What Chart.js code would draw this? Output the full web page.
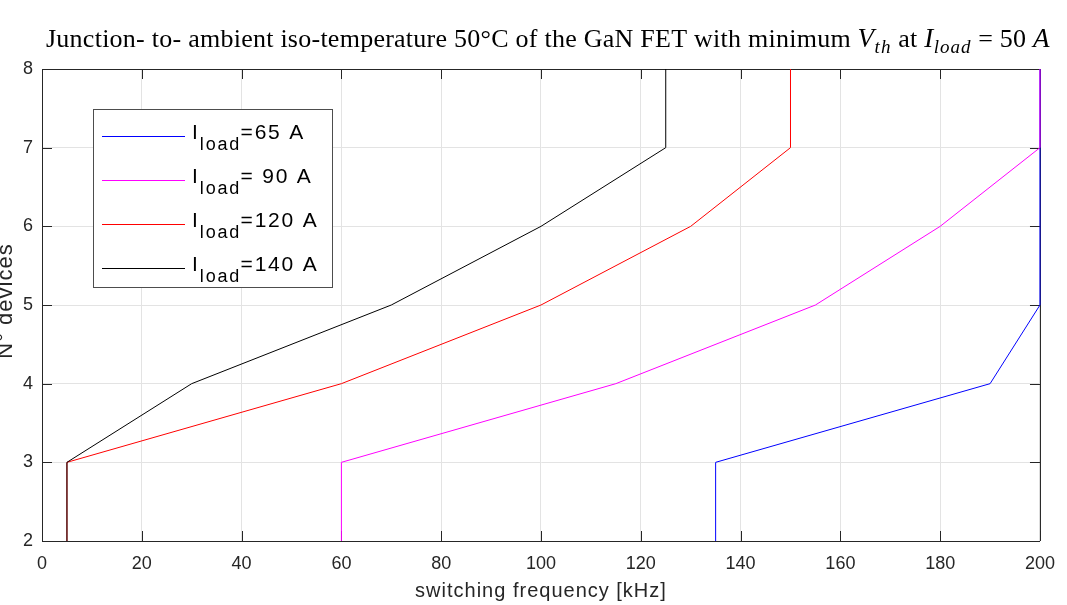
<!DOCTYPE html>
<html><head><meta charset="utf-8">
<script src="https://cdn.jsdelivr.net/npm/chart.js@4/dist/chart.umd.min.js"></script>
<style>html,body{margin:0;padding:0;background:#fff}#wrap{width:1067px;height:605px;position:relative}</style>
</head><body><div id="wrap"><canvas id="c" width="1067" height="605"></canvas></div>
<script>
// ---- data ----
const nDevices = [2, 3, 4, 5, 6, 7, 8];
const freq65  = [135, 135, 190, 200, 200, 200, 200];
const freq90  = [60, 60, 115, 155, 180, 200, 200];
const freq120 = [5, 5, 60, 100, 130, 150, 150];
const freq140 = [5, 5, 30, 70, 100, 125, 125];
const legendSuffix = ['=65 A', '= 90 A', '=120 A', '=140 A'];
const seriesColors = ['#0000ff', '#ff00ff', '#ff0000', '#000000'];
const xTicks = [0, 20, 40, 60, 80, 100, 120, 140, 160, 180, 200];
const yTicks = [2, 3, 4, 5, 6, 7, 8];
const xTitle = 'switching frequency [kHz]';
const yTitle = 'N° devices';

const AX = '#262626';
const SANS = '"Liberation Sans", Arial, sans-serif';
const SERIF = '"Liberation Serif", "Times New Roman", serif';
const allFreq = [freq65, freq90, freq120, freq140];
const datasets = allFreq.map((f, i) => ({
  label: 'Iload' + legendSuffix[i],
  data: f.map((x, k) => ({ x: x, y: nDevices[k] })),
  borderColor: seriesColors[i],
  backgroundColor: seriesColors[i],
  borderWidth: 1,
  pointRadius: 0,
  showLine: true,
  tension: 0,
  clip: 2,
  order: allFreq.length - i
}));

function spacedText(ctx, t, x, y, sp) {
  ctx.letterSpacing = sp + 'px';
  ctx.fillText(t, x, y);
  const w = ctx.measureText(t).width;
  ctx.letterSpacing = '0px';
  return w;
}

const decor = {
  id: 'decor',
  beforeDatasetsDraw(chart) {
    const ctx = chart.ctx, a = chart.chartArea;
    const xs = chart.scales.x, ys = chart.scales.y;
    ctx.save();
    ctx.strokeStyle = AX; ctx.lineWidth = 1;
    ctx.beginPath();
    ctx.moveTo(a.left, a.top + 0.5); ctx.lineTo(a.right + 0.5, a.top + 0.5);
    ctx.lineTo(a.right + 0.5, a.bottom);
    ctx.stroke();
    ctx.beginPath();
    xTicks.forEach(v => {
      const px = Math.round(xs.getPixelForValue(v)) + 0.5;
      ctx.moveTo(px, a.bottom); ctx.lineTo(px, a.bottom - 10);
      ctx.moveTo(px, a.top); ctx.lineTo(px, a.top + 10);
    });
    yTicks.forEach(v => {
      const py = Math.round(ys.getPixelForValue(v)) + 0.5;
      ctx.moveTo(a.left, py); ctx.lineTo(a.left + 10, py);
      ctx.moveTo(a.right, py); ctx.lineTo(a.right - 10, py);
    });
    ctx.stroke();
    ctx.restore();
  },
  afterDraw(chart) {
    const ctx = chart.ctx, a = chart.chartArea;
    ctx.save();
    // legend
    const lx = 93, ly = 109, lw = 239, lh = 178;
    ctx.fillStyle = '#fff';
    ctx.fillRect(lx, ly, lw, lh);
    ctx.strokeStyle = '#4d4d4d'; ctx.lineWidth = 1;
    ctx.strokeRect(lx + 0.5, ly + 0.5, lw, lh);
    chart.data.datasets.forEach((ds, i) => {
      const rowY = 136 + i * 44;
      ctx.strokeStyle = ds.borderColor; ctx.lineWidth = 1;
      ctx.beginPath(); ctx.moveTo(102, rowY + 0.5); ctx.lineTo(185, rowY + 0.5); ctx.stroke();
      ctx.fillStyle = '#000';
      ctx.textBaseline = 'alphabetic'; ctx.textAlign = 'left';
      let x = 192;
      ctx.font = '21px ' + SANS;
      x += spacedText(ctx, 'I', x, rowY + 2.5, 0) + 2;
      ctx.font = '18px ' + SANS;
      x += spacedText(ctx, 'load', x, rowY + 14, 1.8) - 0.5;
      ctx.font = '21px ' + SANS;
      spacedText(ctx, legendSuffix[i], x, rowY + 2.5, 1.8);
    });

    // title (partially cut off, as in reference)
    const segs = [
      ['Junction- to- ambient iso-temperature 50°C of the GaN FET with minimum ', 'n'],
      ['V', 'i'], ['th', 's'], [' at ', 'n'], ['I', 'i'], ['load', 's'], [' = 50 ', 'n'], ['A', 'i']
    ];
    let tx = 46; const tb = 47;
    ctx.fillStyle = '#000';
    segs.forEach(([t, s]) => {
      let sp = 0.25;
      if (s === 'n') ctx.font = '26px ' + SERIF;
      else if (s === 'i') { ctx.font = 'italic 27px ' + SERIF; sp = 0.5; }
      else { ctx.font = 'italic 19px ' + SERIF; sp = 1; }
      tx += spacedText(ctx, t, tx, s === 's' ? tb + 6 : tb, sp);
    });

    // axis titles
    ctx.fillStyle = AX;
    ctx.font = '20px ' + SANS;
    ctx.textAlign = 'center';
    ctx.letterSpacing = '1px';
    ctx.fillText(xTitle, (a.left + a.right) / 2, 597);
    ctx.save();
    ctx.translate(12, (a.top + a.bottom) / 2 - 4);
    ctx.rotate(-Math.PI / 2);
    ctx.font = '22px ' + SANS;
    ctx.letterSpacing = '1px';
    ctx.fillText(yTitle, 0, 0);
    ctx.restore();
    ctx.restore();
  }
};

new Chart(document.getElementById('c'), {
  type: 'scatter',
  data: { datasets },
  options: {
    responsive: false,
    devicePixelRatio: 1,
    animation: false,
    layout: { padding: { left: 0, top: 69, right: 27, bottom: 0 } },
    plugins: { legend: { display: false }, title: { display: false }, tooltip: { enabled: false } },
    scales: {
      x: {
        type: 'linear', min: 0, max: 200,
        afterBuildTicks: s => { s.ticks = xTicks.map(v => ({ value: v })); },
        afterFit: s => { s.height = 64; },
        grid: { color: '#e3e3e3', drawTicks: false, lineWidth: 1 },
        border: { display: true, color: AX, width: 1 },
        ticks: { color: AX, padding: 12, maxRotation: 0, autoSkip: false,
                 font: { family: SANS, size: 18 } }
      },
      y: {
        type: 'linear', min: 2, max: 8,
        afterBuildTicks: s => { s.ticks = yTicks.map(v => ({ value: v })); },
        afterFit: s => { s.width = 42; },
        grid: { color: '#e3e3e3', drawTicks: false, lineWidth: 1 },
        border: { display: true, color: AX, width: 1 },
        ticks: { color: AX, padding: 9, autoSkip: false,
                 font: { family: SANS, size: 18 } }
      }
    }
  },
  plugins: [decor]
});
</script>
</body></html>
